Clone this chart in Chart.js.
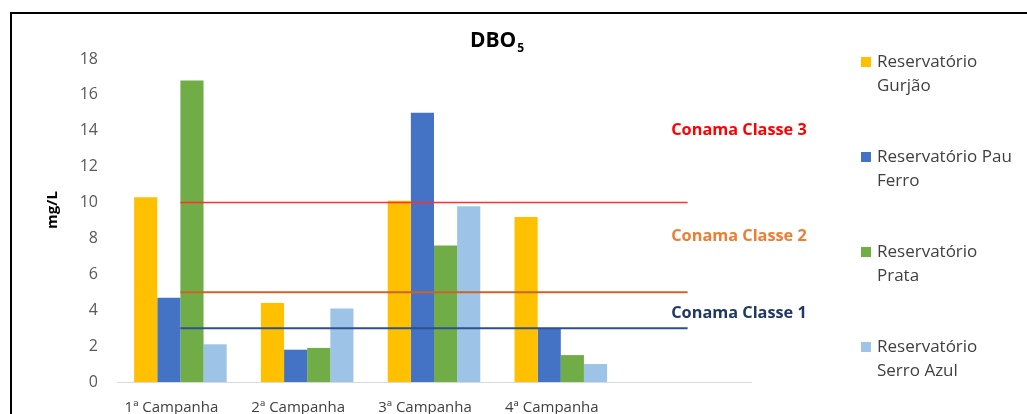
<!DOCTYPE html>
<html>
<head>
<meta charset="utf-8">
<script src="https://cdn.jsdelivr.net/npm/chart.js@4/dist/chart.umd.min.js"></script>
<style>
  html, body { margin: 0; padding: 0; background: #fff; overflow: hidden; }
  #frame { position: absolute; left: 10px; top: 12px; width: 1100px; height: 500px; border: 2px solid #000; }
  #wrap { position: absolute; left: 0; top: 0; width: 1027px; height: 440px; }
</style>
</head>
<body>
<div id="frame"></div>
<div id="wrap"><canvas id="myChart" width="1027" height="440"></canvas></div>
<script>
// Dane z wykresu DBO5
const campanhas = ['1ª Campanha', '2ª Campanha', '3ª Campanha', '4ª Campanha', ''];
const gurjao = [10.3, 4.4, 10.1, 9.2];
const pauFerro = [4.7, 1.8, 15.0, 3.0];
const prata = [16.8, 1.9, 7.6, 1.5];
const serroAzul = [2.1, 4.1, 9.8, 1.0];

const seriesNames = ['Reservatório Gurjão', 'Reservatório Pau Ferro', 'Reservatório Prata', 'Reservatório Serro Azul'];
const legendLines = [['Reservatório', 'Gurjão'], ['Reservatório Pau', 'Ferro'], ['Reservatório', 'Prata'], ['Reservatório', 'Serro Azul']];
const seriesColors = ['#FFC000', '#4472C4', '#70AD47', '#9DC3E6'];

// limity Conama (klasa 1, 2, 3)
const conamaNames = ['Conama Classe 1', 'Conama Classe 2', 'Conama Classe 3'];
const conamaLimits = [3, 5, 10];
const conamaLineColors = ['#2F4F8F', '#C8652A', '#FF3030'];
const conamaTextColors = ['#1F3864', '#ED7D31', '#FF0000'];

const yTicks = [0, 2, 4, 6, 8, 10, 12, 14, 16, 18];

const FONT = '"Open Sans", Lato, sans-serif';

const barSets = [gurjao, pauFerro, prata, serroAzul].map((d, i) => ({
    type: 'bar',
    label: seriesNames[i],
    data: d,
    backgroundColor: seriesColors[i],
    borderWidth: 0,
    categoryPercentage: 0.73,
    barPercentage: 1.0,
    order: 2
}));

const lineSets = conamaLimits.map((v, i) => ({
    type: 'line',
    label: conamaNames[i],
    data: campanhas.map(() => v),
    borderColor: conamaLineColors[i],
    borderWidth: i === 2 ? 1.5 : 2,
    pointRadius: 0,
    fill: false,
    tension: 0,
    order: 1
}));

// Rysowanie tytułu, opisu osi, etykiet Conama i legendy
const extras = {
    id: 'extras',
    afterDraw(chart) {
        const ctx = chart.ctx;
        ctx.save();

        // tytuł DBO z indeksem dolnym
        ctx.fillStyle = '#000';
        ctx.textAlign = 'left';
        ctx.textBaseline = 'alphabetic';
        ctx.font = 'bold 21px ' + FONT;
        const mainW = ctx.measureText('DBO').width;
        ctx.font = 'bold 12px ' + FONT;
        const subW = ctx.measureText('5').width;
        const tx = 497 - (mainW + subW + 1) / 2;
        ctx.font = 'bold 21px ' + FONT;
        ctx.fillText('DBO', tx, 47);
        ctx.font = 'bold 12px ' + FONT;
        ctx.fillText('5', tx + mainW + 1, 52);

        // opis osi Y
        ctx.save();
        ctx.translate(53, 210);
        ctx.rotate(-Math.PI / 2);
        ctx.textAlign = 'center';
        ctx.textBaseline = 'middle';
        ctx.font = 'bold 15px ' + FONT;
        ctx.fillStyle = '#000';
        ctx.fillText('mg/L', 0, 0);
        ctx.restore();

        // etykiety Conama
        const labelY = [313, 236, 130];
        ctx.textAlign = 'center';
        ctx.textBaseline = 'middle';
        ctx.font = 'bold 16.3px ' + FONT;
        conamaNames.forEach((n, i) => {
            ctx.fillStyle = conamaTextColors[i];
            ctx.fillText(n, chart.chartArea.right - 12, labelY[i]);
        });

        // legenda
        ctx.textAlign = 'left';
        ctx.font = '17px ' + FONT;
        legendLines.forEach((lines, i) => {
            const y = 62 + i * 95;
            ctx.fillStyle = seriesColors[i];
            ctx.fillRect(861, y - 5, 10, 10);
            ctx.fillStyle = '#404040';
            lines.forEach((t, j) => ctx.fillText(t, 877, y + j * 24));
        });

        ctx.restore();
    }
};

const ctx = document.getElementById('myChart').getContext('2d');
const myChart = new Chart(ctx, {
    type: 'bar',
    data: {
        labels: campanhas,
        datasets: [...barSets, ...lineSets]
    },
    options: {
        responsive: false,
        animation: false,
        layout: { padding: { top: 59, right: 276, left: 0, bottom: 0 } },
        plugins: {
            legend: { display: false },
            title: { display: false },
            tooltip: { enabled: false }
        },
        scales: {
            x: {
                offset: true,
                grid: { display: false, drawTicks: false },
                border: { display: true, color: '#D9D9D9', width: 1 },
                ticks: { color: '#404040', font: { family: FONT, size: 15 }, padding: 17, maxRotation: 0, labelOffset: -9 },
                afterFit: (s) => { s.height = 58; }
            },
            y: {
                min: 0,
                max: 18,
                afterBuildTicks: (s) => { s.ticks = yTicks.map(v => ({ value: v })); },
                grid: { display: false, drawTicks: false },
                border: { display: false },
                ticks: { color: '#595959', font: { family: FONT, size: 16 }, padding: 19 },
                afterFit: (s) => { s.width = 117; }
            }
        }
    },
    plugins: [extras]
});
</script>
</body>
</html>
